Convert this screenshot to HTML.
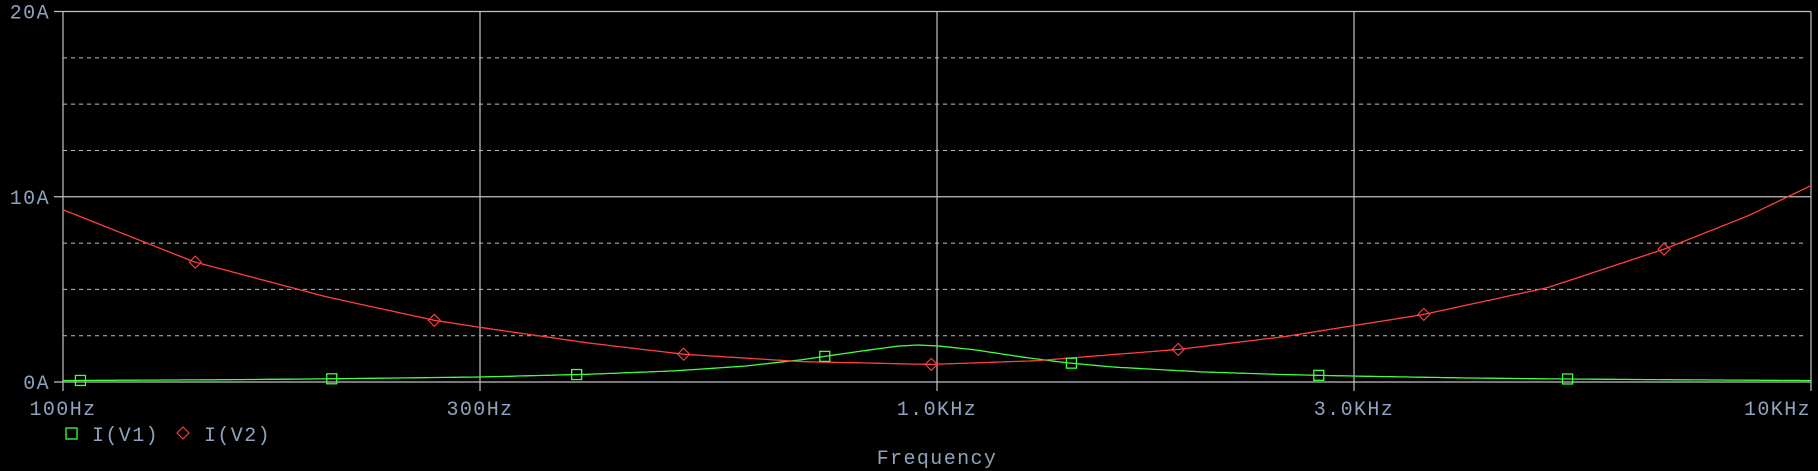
<!DOCTYPE html>
<html><head><meta charset="utf-8"><style>
html,body{margin:0;padding:0;background:#000;}
svg{display:block;}
text{font-family:"Liberation Mono",monospace;font-size:20px;fill:#8fa3bd;letter-spacing:1.4px;}
</style></head><body>
<svg id="chart" width="1818" height="471" viewBox="0 0 1818 471" xmlns="http://www.w3.org/2000/svg">
<rect width="1818" height="471" fill="#000"/>
<g id="grid"></g>
<g id="series"></g>
<g id="labels"></g>
<g>
  <rect x="66" y="428" width="11" height="11" fill="none" stroke="#40ff40" stroke-width="1.3"/>
  <text x="92" y="441">I(V1)</text>
  <path d="M183,427 L189,433 L183,439 L177,433 Z" fill="none" stroke="#ff4040" stroke-width="1.1"/>
  <text x="204" y="441">I(V2)</text>
</g>
<text x="937" y="464" text-anchor="middle">Frequency</text>
</svg>
<script>
const xTickFreqs=[100,300,1000,3000,10000];
const xTickLabels=["100Hz","300Hz","1.0KHz","3.0KHz","10KHz"];
const yTickValues=[0,10,20];
const yTickLabels=["0A","10A","20A"];
const yMinorValues=[2.5,5,7.5,12.5,15,17.5];
const v1Freqs=[100,150,200,300,400,500,600,700,800,900,950,1000,1100,1250,1400,1600,2000,2500,3000,4000,5000,7000,10000];
const v1Values=[0.08,0.12,0.17,0.27,0.42,0.6,0.85,1.2,1.6,1.93,2.0,1.95,1.75,1.35,1.05,0.8,0.55,0.4,0.32,0.22,0.17,0.12,0.08];
const v2Freqs=[100,141,200,266,300,400,513,700,985,1300,1888,2500,3606,5000,6790,8500,10000];
const v2Values=[9.3,6.5,4.6,3.33,2.95,2.1,1.5,1.1,0.95,1.15,1.76,2.45,3.65,5.1,7.17,9.0,10.6];
const v1MarkerFreqs=[104.7,203,387,744,1425,2734,5266];
const v2MarkerFreqs=[141.7,266,513,985,1888,3606,6790];

const X0=63,X1=1811,Y0=382,Y1=11.5,YMAX=20;
const NS="http://www.w3.org/2000/svg";
function xs(f){return X0+(X1-X0)*Math.log10(f/100)/2;}
function ys(v){return Y0-(Y0-Y1)*v/YMAX;}
function interp(fs,vs,f){
  for(let i=0;i<fs.length-1;i++){if(f<=fs[i+1]){const t=(Math.log(f)-Math.log(fs[i]))/(Math.log(fs[i+1])-Math.log(fs[i]));return vs[i]+t*(vs[i+1]-vs[i]);}}
  return vs[vs.length-1];
}
function mk(tag,attrs,parent){const e=document.createElementNS(NS,tag);for(const k in attrs)e.setAttribute(k,attrs[k]);parent.appendChild(e);return e;}
const grid=document.getElementById('grid'),series=document.getElementById('series'),labels=document.getElementById('labels');

yMinorValues.forEach(v=>{
  const l=mk('line',{x1:X0,x2:X1-4,y1:ys(v),y2:ys(v),stroke:'#c0c0c0','stroke-width':1,'stroke-dasharray':'4 4'},grid);
  
  
});
yTickValues.forEach((v,i)=>{
  const l=mk('line',{x1:X0-9,x2:X1,y1:ys(v),y2:ys(v),stroke:'#c0c0c0','stroke-width':1.2},grid);
  
  
  const t=mk('text',{x:50,y:ys(v)+7,'text-anchor':'end'},labels);
  t.textContent=yTickLabels[i];
  
  
});
xTickFreqs.forEach((f,i)=>{
  const l=mk('line',{x1:xs(f),x2:xs(f),y1:Y1,y2:Y0+9,stroke:'#c0c0c0','stroke-width':1.2},grid);
  
  
  const anchor=i===xTickFreqs.length-1?'end':'middle';
  const t=mk('text',{x:anchor==='end'?X1:xs(f),y:415,'text-anchor':anchor},labels);
  t.textContent=xTickLabels[i];
  
  
});

function drawLine(fs,vs,color,name){
  let d='';
  for(let k=0;k<=400;k++){const f=100*Math.pow(100,k/400);d+=(k?'L':'M')+xs(f).toFixed(1)+','+ys(interp(fs,vs,f)).toFixed(1);}
  const p=mk('path',{d:d,fill:'none',stroke:color,'stroke-width':1.3},series);
  
  
}
drawLine(v1Freqs,v1Values,'#40ff40','line-i-v1');
drawLine(v2Freqs,v2Values,'#ff4040','line-i-v2');
v1MarkerFreqs.forEach(f=>{
  const x=xs(f),y=ys(interp(v1Freqs,v1Values,f));
  const r=mk('rect',{x:x-5,y:y-5,width:10,height:10,fill:'none',stroke:'#40ff40','stroke-width':1.3},series);
  
  
});
v2MarkerFreqs.forEach(f=>{
  const x=xs(f),y=ys(interp(v2Freqs,v2Values,f));
  const p=mk('path',{d:`M${x},${y-6}L${x+6},${y}L${x},${y+6}L${x-6},${y}Z`,fill:'none',stroke:'#ff4040','stroke-width':1.1},series);
  
  
});
</script>
</body></html>
